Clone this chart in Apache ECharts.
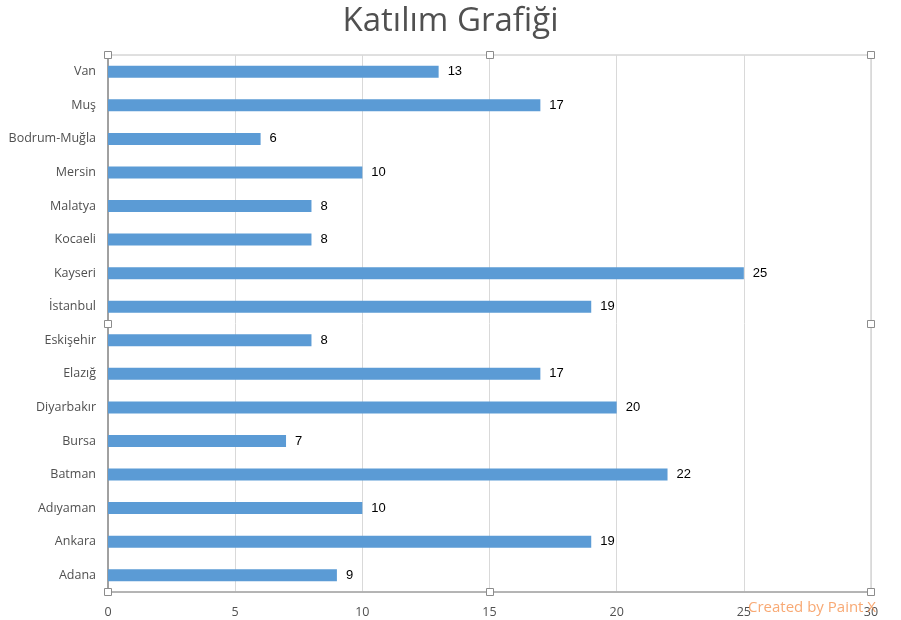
<!DOCTYPE html>
<html>
<head>
<meta charset="utf-8">
<script src="https://cdn.jsdelivr.net/npm/echarts@6/dist/echarts.min.js"></script>
<style>html,body{margin:0;padding:0;background:#fff;}#c{width:901px;height:620px;}</style>
</head>
<body>
<div id="c"></div>
<script>
const titleText = 'Katılım Grafiği';
const categories = ['Van','Muş','Bodrum-Muğla','Mersin','Malatya','Kocaeli','Kayseri','İstanbul','Eskişehir','Elazığ','Diyarbakır','Bursa','Batman','Adıyaman','Ankara','Adana'];
const values = [13,17,6,10,8,8,25,19,8,17,20,7,22,10,19,9];
const xTicks = [0,5,10,15,20,25,30];
const watermark = 'Created by Paint X';

const chart = echarts.init(document.getElementById('c'));
const L = 108, T = 55, R = 871, B = 592;
const handlePts = [[L,T],[(L+R)/2,T],[R,T],[L,(T+B)/2],[R,(T+B)/2],[L,B],[(L+R)/2,B],[R,B]];
const handles = handlePts.map(p => ({
  type:'rect', z:100,
  shape:{x:Math.round(p[0])-3.5, y:Math.round(p[1])-3.5, width:7, height:7},
  style:{fill:'#fff', stroke:'#8c8c8c', lineWidth:1}
}));
chart.setOption({
  animation:false,
  title:{text:titleText, left:'center', top:0,
    textStyle:{fontFamily:'Open Sans', fontSize:33, fontWeight:'normal', color:'#505050'}},
  grid:{left:L, top:T, right:901-R, bottom:620-B, show:true, borderColor:'#c0c0c0', borderWidth:1},
  xAxis:{type:'value', min:xTicks[0], max:xTicks[xTicks.length-1], interval:5,
    axisLine:{show:true, lineStyle:{color:'#a6a6a6', width:1.5}},
    axisTick:{show:false},
    splitLine:{lineStyle:{color:'#d9d9d9'}},
    axisLabel:{fontFamily:'Open Sans', fontSize:12.5, color:'#505050', margin:14}},
  yAxis:{type:'category', data:categories, inverse:true,
    axisLine:{show:true, lineStyle:{color:'#8c8c8c', width:1.5}},
    axisTick:{show:false},
    axisLabel:{fontFamily:'Open Sans', fontSize:12.5, color:'#505050', margin:12}},
  series:[{type:'bar', data:values, barWidth:12,
    itemStyle:{color:'#5B9BD5'},
    label:{show:true, position:'right', distance:9, fontFamily:'Liberation Sans', fontSize:13, color:'#000'}}],
  graphic:handles.concat([{type:'text', z:101, left:748, top:600,
    style:{text:watermark, fontFamily:'Open Sans', fontSize:15, fill:'rgba(245,140,70,0.75)'}}])
});
</script>
</body>
</html>
